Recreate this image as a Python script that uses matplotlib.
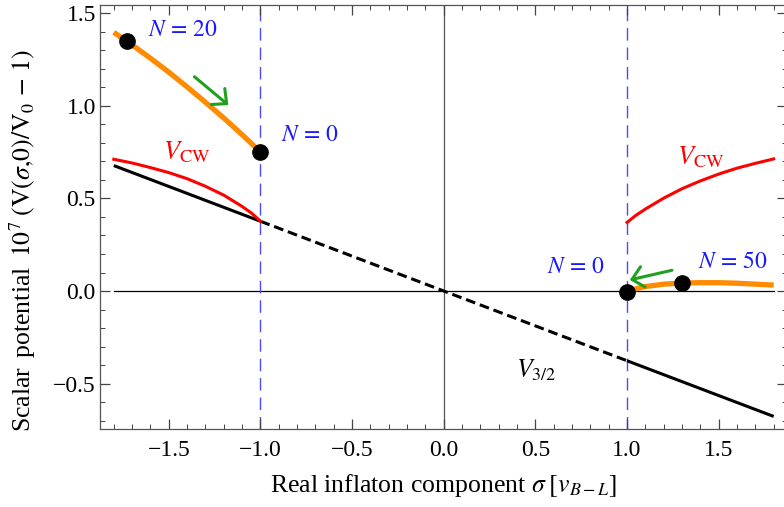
import numpy as np
import matplotlib
matplotlib.use("Agg")
import matplotlib.pyplot as plt
from matplotlib.ticker import MultipleLocator

plt.rcParams['font.family'] = ['Liberation Serif', 'DejaVu Serif']
plt.rcParams['mathtext.fontset'] = 'stix'

# tree level gravitino term, straight through the origin
sig_lin = [-1.8, -1.0, 1.0, 1.8]
v_lin = [0.678, 0.377, -0.377, -0.678]

# Coleman-Weinberg branches outside |sigma| = 1
sig_cw_left = [-1.8, -1.7, -1.6, -1.5, -1.4, -1.3, -1.2, -1.1, -1.05, -1.0]
v_cw_left = [0.712, 0.692, 0.667, 0.640, 0.607, 0.566, 0.518, 0.457, 0.422, 0.378]
sig_cw_right = [1.0, 1.05, 1.1, 1.2, 1.3, 1.4, 1.5, 1.6, 1.7, 1.8]
v_cw_right = [0.371, 0.410, 0.443, 0.502, 0.553, 0.595, 0.632, 0.664, 0.690, 0.714]

# inflaton trajectories (orange)
sig_traj_left = [-1.8, -1.7, -1.6, -1.5, -1.4, -1.3, -1.2, -1.1, -1.0]
v_traj_left = [1.398, 1.330, 1.258, 1.183, 1.103, 1.020, 0.935, 0.845, 0.751]
sig_traj_right = [1.0, 1.05, 1.1, 1.2, 1.3, 1.4, 1.5, 1.6, 1.7, 1.8]
v_traj_right = [-0.004, 0.012, 0.024, 0.037, 0.043, 0.045, 0.045, 0.042, 0.037, 0.032]

# e-fold markers
dot_sig = [-1.728, -1.0, 1.0, 1.298]
dot_v = [1.350, 0.751, -0.006, 0.042]
dot_text = [r'$N\,=\,20$', r'$N\,=\,0$', r'$N\,=\,0$', r'$N\,=\,50$']
dot_text_pos = [(-1.42, 1.41), (-0.73, 0.84), (0.72, 0.125), (1.58, 0.155)]

fig = plt.figure(figsize=(7.84, 5.07), dpi=100)
ax = fig.add_axes([0.1276, 0.1538, 0.8768, 0.8364])

ax.axhline(0, xmin=(-1.8 + 1.875) / 3.75, xmax=(1.8 + 1.875) / 3.75, color='black', lw=0.9, zorder=1)
ax.axvline(0, color='#555555', lw=0.9, zorder=1)

for xv in (-1.0, 1.0):
    ax.axvline(xv, color='#4a4aff', lw=1.0, dashes=(9, 5), zorder=1)

# V_3/2: solid outside, dashed inside
ax.plot(sig_lin[:2], v_lin[:2], color='black', lw=2.2, solid_capstyle='butt', zorder=3)
ax.plot(sig_lin[2:], v_lin[2:], color='black', lw=2.2, solid_capstyle='butt', zorder=3)
ax.plot(sig_lin[1:3], v_lin[1:3], color='black', lw=2.2, dashes=(3.2, 1.6), zorder=3)

ax.plot(sig_cw_left, v_cw_left, color='#ff0000', lw=2.2, zorder=4)
ax.plot(sig_cw_right, v_cw_right, color='#ff0000', lw=2.2, zorder=4)

ax.plot(sig_traj_left, v_traj_left, color='#ff8c00', lw=3.8, solid_capstyle='butt', zorder=5)
ax.plot(sig_traj_right, v_traj_right, color='#ff8c00', lw=3.8, solid_capstyle='butt', zorder=5)

ax.plot(dot_sig, dot_v, 'o', color='black', ms=11, zorder=6)
for txt, (tx, ty) in zip(dot_text, dot_text_pos):
    ax.text(tx, ty, txt, color='#1a1aff', fontsize=17, ha='center', va='center')

# direction of slow roll
arrow = dict(arrowstyle='->,head_length=0.8,head_width=0.75', color='#1fa01f', lw=2.2, shrinkA=0, shrinkB=0)
ax.annotate('', xy=(-1.175, 1.005), xytext=(-1.36, 1.158), arrowprops=arrow, zorder=7)
ax.annotate('', xy=(1.015, 0.06), xytext=(1.245, 0.112), arrowprops=arrow, zorder=7)

ax.text(-1.40, 0.75, r'$V_{\rm CW}$', color='#ff0000', fontsize=19, ha='center', va='center')
ax.text(1.405, 0.725, r'$V_{\rm CW}$', color='#ff0000', fontsize=19, ha='center', va='center')
ax.text(0.505, -0.43, r'$V_{3/2}$', color='black', fontsize=18.5, ha='center', va='center')

ax.set_xlim(-1.875, 1.875)
ax.set_ylim(-0.746, 1.546)
ax.xaxis.set_major_locator(MultipleLocator(0.5))
ax.xaxis.set_minor_locator(MultipleLocator(0.1))
ax.yaxis.set_major_locator(MultipleLocator(0.5))
ax.yaxis.set_minor_locator(MultipleLocator(0.1))
ax.xaxis.set_major_formatter(lambda v, p: f'{v:.1f}'.replace('-', '\u2212'))
ax.yaxis.set_major_formatter(lambda v, p: f'{v:.1f}'.replace('-', '\u2212'))
ax.tick_params(which='both', direction='in', top=True, right=True, labelsize=17, color='#444444')
ax.tick_params(which='major', length=7, width=0.9)
ax.tick_params(axis='x', which='major', pad=8)
ax.tick_params(axis='y', which='major', pad=3)
ax.tick_params(which='minor', length=3.5, width=0.7)
for s in ax.spines.values():
    s.set_color('#555555')
    s.set_linewidth(0.9)

ax.set_xlabel(r'Real inflaton component $\sigma\;[v_{B-L}]$', fontsize=18.5, labelpad=8)
ax.set_ylabel(r'Scalar$\;\;$potential$\;\;$$10^7\;(\mathrm{V}(\sigma{,}0)/\mathrm{V}_0\,-\,1)$', fontsize=18.5)
ax.yaxis.set_label_coords(-0.09, 0.445)

fig.savefig('out.png', dpi=100)
